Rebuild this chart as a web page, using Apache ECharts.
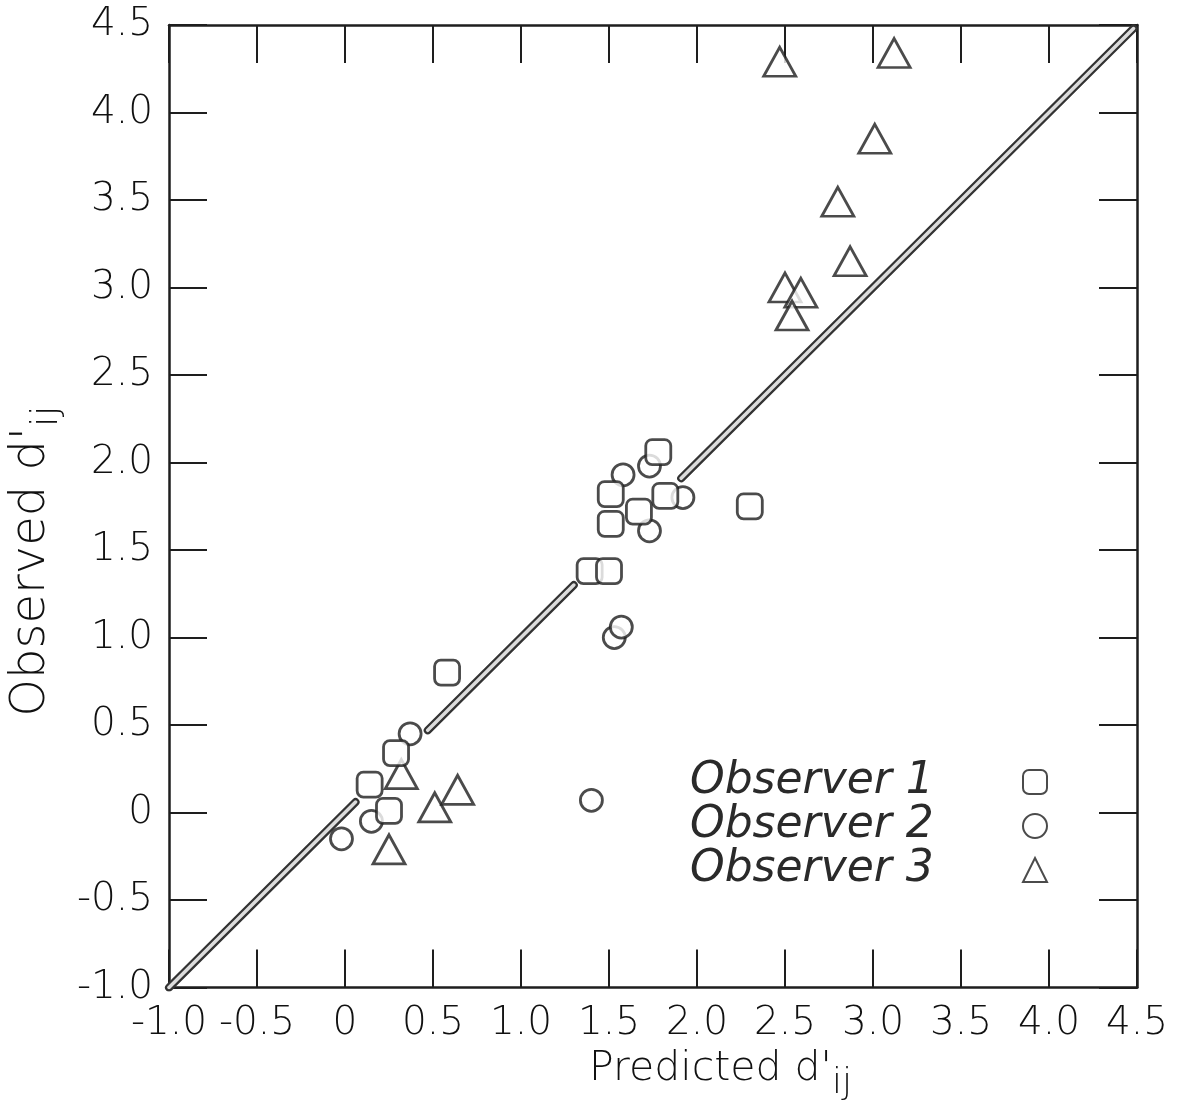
<!DOCTYPE html>
<html>
<head>
<meta charset="utf-8">
<script src="https://cdn.jsdelivr.net/npm/echarts@6/dist/echarts.min.js"></script>
<style>
  html, body { margin: 0; padding: 0; background: #fff; }
  #main { width: 1179px; height: 1107px; }
</style>
</head>
<body>
<div id="main"></div>
<script>
// axis ticks (both axes run -1.0 .. 4.5 in steps of 0.5)
var tickValues = [-1.0, -0.5, 0, 0.5, 1.0, 1.5, 2.0, 2.5, 3.0, 3.5, 4.0, 4.5];
var tickLabels = ['-1.0', '-0.5', '0', '0.5', '1.0', '1.5', '2.0', '2.5', '3.0', '3.5', '4.0', '4.5'];

// [predicted, observed]
var observer1 = [[0.58, 0.80], [0.29, 0.34], [0.14, 0.16], [0.25, 0.01], [1.78, 2.06], [1.51, 1.82],
                 [1.82, 1.81], [1.67, 1.72], [1.51, 1.65], [2.30, 1.75], [1.39, 1.38], [1.50, 1.38]];
var observer2 = [[0.37, 0.45], [0.15, -0.05], [-0.02, -0.15], [1.40, 0.07], [1.73, 1.98], [1.58, 1.93],
                 [1.92, 1.80], [1.73, 1.61], [1.53, 1.00], [1.57, 1.06]];
var observer3 = [[0.32, 0.22], [0.25, -0.21], [0.51, 0.03], [0.64, 0.13], [2.47, 4.29], [3.12, 4.34],
                 [3.01, 3.85], [2.80, 3.49], [2.87, 3.15], [2.50, 3.00], [2.59, 2.97], [2.54, 2.84]];

// the y = x line is drawn in pieces (it is broken around the clusters)
var identityPieces = [[-1.0, 0.06], [0.47, 1.30], [1.91, 4.48]];

var ink = '#1e1e1e';
var font = 'DejaVu Sans';

function fmt(v) {
    var i = tickValues.indexOf(Math.round(v * 10) / 10);
    return i < 0 ? '' : tickLabels[i];
}

var identityData = [];
identityPieces.forEach(function (p, i) {
    if (i > 0) identityData.push(['-', '-']);
    identityData.push([p[0], p[0]]);
    identityData.push([p[1], p[1]]);
});

var frameAxis = {
    type: 'value', min: -1, max: 4.5, interval: 0.5,
    splitLine: { show: false },
    axisLine: { show: true, onZero: false, lineStyle: { color: ink, width: 2.5 } },
    axisTick: { show: true, inside: true, length: 38, lineStyle: { color: ink, width: 2 } }
};

var labelStyle = { color: '#111', fontFamily: font, fontSize: 39, fontWeight: 200 };

var myChart = echarts.init(document.getElementById('main'));
var option = {
    backgroundColor: '#fff',
    animation: false,
    grid: { left: 163, right: 42, top: 25, bottom: 117 },
    legend: {
        orient: 'vertical',
        left: 685, top: 755,
        align: 'right',
        itemGap: 0,
        itemWidth: 24, itemHeight: 24,
        data: [
            { name: 'Observer 1', icon: 'roundRect' },
            { name: 'Observer 2', icon: 'circle' },
            { name: 'Observer 3', icon: 'triangle' }
        ],
        formatter: '{a|{name}}',
        textStyle: {
            rich: {
                a: {
                    color: '#2a2a2a', fontFamily: font, fontSize: 44,
                    fontStyle: 'italic', fontWeight: 200, width: 328, align: 'left', lineHeight: 42
                }
            }
        }
    },
    xAxis: [
        Object.assign({}, frameAxis, {
            position: 'bottom',
            axisLabel: Object.assign({ margin: 17, formatter: fmt }, labelStyle),
            name: "{a|Predicted d'}{s|ij}",
            nameLocation: 'middle',
            nameGap: 48,
            nameTextStyle: {
                padding: [0, 0, 0, 135],
                rich: {
                    a: { color: '#111', fontFamily: font, fontSize: 41, fontWeight: 200 },
                    s: { color: '#111', fontFamily: font, fontSize: 36, fontWeight: 200, padding: [30, 0, 0, 0] }
                }
            }
        }),
        Object.assign({}, frameAxis, { position: 'top', axisLabel: { show: false } })
    ],
    yAxis: [
        Object.assign({}, frameAxis, {
            position: 'left',
            axisLabel: Object.assign({ margin: 16, formatter: fmt }, labelStyle),
            name: "{a|Observed d'}{s|ij}",
            nameLocation: 'middle',
            nameGap: 100,
            nameRotate: 90,
            nameTextStyle: {
                padding: [0, 110, 0, 0],
                rich: {
                    a: { color: '#111', fontFamily: font, fontSize: 48, fontWeight: 200 },
                    s: { color: '#111', fontFamily: font, fontSize: 38, fontWeight: 200, padding: [30, 0, 0, 0] }
                }
            }
        }),
        Object.assign({}, frameAxis, { position: 'right', axisLabel: { show: false } })
    ],
    series: [
        {
            name: 'identity-edge', type: 'line', data: identityData, symbol: 'none', z: 1,
            silent: true, lineStyle: { color: '#333', width: 8, cap: 'round' }
        },
        {
            name: 'identity-core', type: 'line', data: identityData, symbol: 'none', z: 1,
            silent: true, lineStyle: { color: '#dcdcdc', width: 3.5, cap: 'round' }
        },
        {
            name: 'Observer 2', type: 'scatter', data: observer2, symbol: 'circle', symbolSize: 22, z: 3,
            itemStyle: { color: '#fff', borderColor: ink, borderWidth: 2.8 }
        },
        {
            name: 'Observer 3', type: 'scatter', data: observer3, symbol: 'triangle', symbolSize: [32, 29], z: 3,
            itemStyle: { color: '#fff', borderColor: ink, borderWidth: 2.8 }
        },
        {
            name: 'Observer 1', type: 'scatter', data: observer1, symbol: 'roundRect', symbolSize: 25, z: 4,
            itemStyle: { color: '#fff', borderColor: ink, borderWidth: 2.8 }
        }
    ]
};
myChart.setOption(option);
</script>
</body>
</html>
